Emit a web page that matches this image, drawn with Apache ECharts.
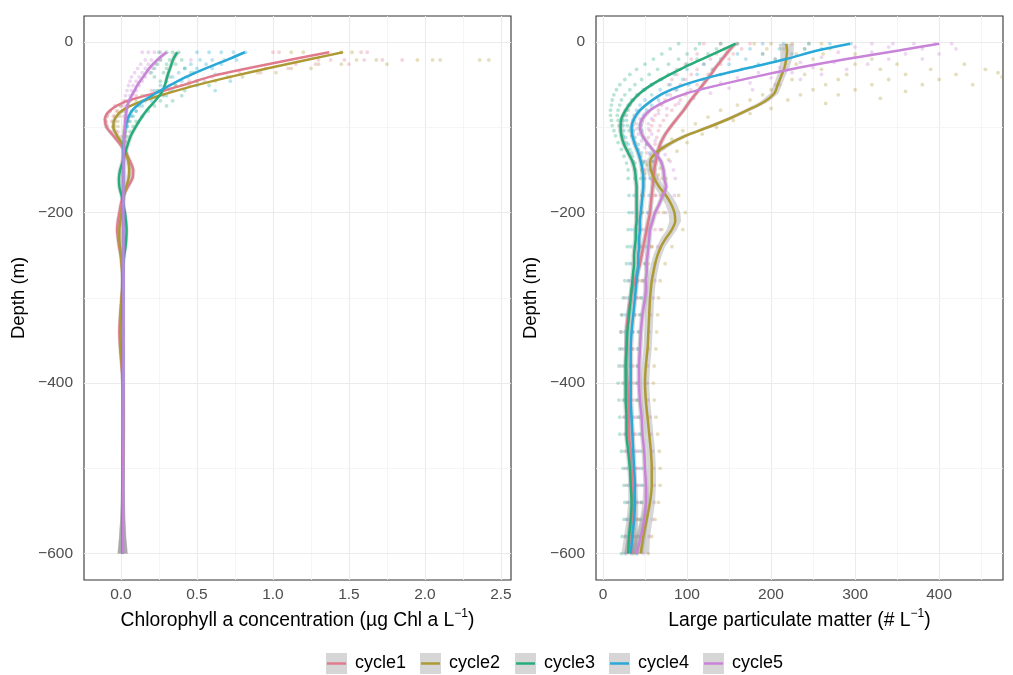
<!DOCTYPE html>
<html><head><meta charset="utf-8">
<script src="https://cdn.jsdelivr.net/npm/echarts@6/dist/echarts.min.js"></script>
<style>html,body{margin:0;padding:0;background:#fff}#c{width:1013px;height:675px}</style>
</head><body><div id="c"></div><script>
const cycles = ['cycle1','cycle2','cycle3','cycle4','cycle5'];
const chlTicks = [0, 0.5, 1, 1.5, 2, 2.5];
const chlMinor = [0.25, 0.75, 1.25, 1.75, 2.25];
const lpmTicks = [0, 100, 200, 300, 400];
const lpmMinor = [50, 150, 250, 350, 450];
const depthTicks = [0, -200, -400, -600];
const depthMinor = [-100, -300, -500];

const leftDepths = [-12,-20,-30,-40,-50,-60,-70,-80,-90,-100,-110,-120,-130,-140,-150,-160,-170,-180,-190,-200,-210,-220,-230,-240,-250,-260,-270,-280,-290,-300,-320,-340,-360,-380,-400,-420,-440,-460,-480,-500,-520,-540,-560,-580,-600];
const chl_cycle1 = [1.37,1.14,0.86,0.60,0.42,0.22,0.03,-0.07,-0.105,-0.095, -0.05,-0.005,0.03,0.06,0.08,0.075,0.045,0.015,0.0,-0.01, -0.02,-0.025,-0.02,-0.012,-0.002,0.005,0.01,0.012,0.01,0.005, -0.005,-0.01,-0.005,0.005,0.012,0.015,0.016,0.015,0.014,0.013,0.012,0.012,0.011,0.01,0.01];
const chl_cycle2 = [1.46,1.25,0.99,0.74,0.51,0.31,0.13,0.01,-0.04,-0.05, -0.025,0.01,0.035,0.048,0.055,0.05,0.035,0.02,0.01,0.004, -0.004,-0.01,-0.01,-0.007,0.0,0.004,0.008,0.01,0.008,0.004, 0.0,-0.004,0.0,0.006,0.012,0.014,0.015,0.015,0.014,0.013,0.012,0.012,0.011,0.01,0.01];
const chl_cycle3 = [0.37,0.345,0.325,0.305,0.29,0.265,0.22,0.17,0.13,0.095, 0.065,0.045,0.028,0.012,-0.005,-0.013,-0.01,0.004,0.015,0.026, 0.033,0.037,0.035,0.03,0.022,0.015,0.012,0.01,0.01,0.011, 0.012,0.013,0.013,0.013,0.013,0.013,0.012,0.012,0.012,0.012,0.012,0.012,0.011,0.01,0.01];
const chl_cycle4 = [0.815,0.71,0.57,0.44,0.33,0.23,0.14,0.075,0.045,0.03, 0.022,0.018,0.016,0.015,0.015,0.015,0.015,0.015,0.015,0.015, 0.015,0.015,0.015,0.015,0.015,0.015,0.015,0.015,0.015,0.015, 0.014,0.014,0.014,0.014,0.014,0.014,0.014,0.014,0.013,0.013,0.013,0.013,0.012,0.012,0.012];
const chl_cycle5 = [0.30,0.245,0.19,0.15,0.11,0.08,0.05,0.037,0.03,0.026, 0.022,0.02,0.018,0.017,0.016,0.016,0.016,0.016,0.016,0.016, 0.016,0.016,0.016,0.016,0.016,0.016,0.016,0.016,0.016,0.016, 0.016,0.016,0.016,0.016,0.016,0.016,0.016,0.016,0.015,0.015,0.015,0.015,0.015,0.014,0.014];
const chlSE = [0.02,0.018,0.015,0.013,0.012,0.012,0.012,0.013,0.015,0.016, 0.016,0.016,0.016,0.016,0.016,0.016,0.015,0.014,0.013,0.013, 0.013,0.013,0.013,0.013,0.012,0.012,0.012,0.012,0.012,0.012, 0.012,0.012,0.012,0.012,0.012,0.012,0.012,0.012,0.012,0.012,0.012,0.013,0.016,0.022,0.032];

const rightDepths = [-2,-10,-20,-30,-40,-50,-60,-70,-80,-90,-100,-110,-120,-130,-140,-150,-160,-170,-180,-190,-200,-210,-220,-230,-240,-250,-260,-270,-280,-290,-300,-320,-340,-360,-380,-400,-420,-440,-460,-480,-500,-520,-540,-560,-580,-600];
const lpm_cycle1 = [157,150,142,134,127,119,111,103,96,88, 80,73,68,65,63,61,60,59,58,57, 56,54,52,50,48,46,44,41,38,35, 33, 30,28,28,28,29,30,31,31,33,34,35,36,35,34,34];
const lpm_cycle2 = [218,219,218,216,212,208,204,192,172,150, 125,98,78,63,56,57,61,67,75,81, 85,86,82,75,69,65,62,60,58,57, 56, 55,54,53,51,50,51,53,55,57,58,58,56,52,48,45];
const lpm_cycle3 = [158,140,118,96,76,58,44,34,27,22, 21,22,25,30,35,38,39,40,40,40, 40,40,39,39,38,37,37,36,35,34, 33, 31,29,28,27,27,27,28,28,30,32,33,34,33,31,30];
const lpm_cycle4 = [294,255,218,175,132,97,72,56,44,37, 34,35,38,42,45,47,48,48,47,46, 45,44,44,43,43,42,42,41,40,39, 38, 36,34,33,33,33,33,34,35,36,37,38,38,37,35,33];
const lpm_cycle5 = [400,352,290,234,185,140,100,74,56,47, 44,47,54,62,69,72,73,75,71,67, 62,59,56,55,54,53,52,52,51,51, 50, 47,45,44,43,43,44,46,47,49,50,51,51,49,45,40];
const lpmSE = [4,3.5,3,3,3,3,3,3,3,3, 3,3,3,3,3,3,3,3,3,3, 3,3,3,3,3,3,3,3,3,3, 3, 3,3,3,3,3,3,3,3,3,3,3,4,5,6,8];
const lpmSE_cycle2 = [9,8,7,6,5,5,5,5,5,5, 5,5,5,5,5,5,6,6,7,7, 7,7,6,6,5,5,5,5,5,5, 5, 5,5,5,5,5,5,5,5,5,5,5,6,7,8,10];

const chlPts_cycle1 = [[1.0,-12],[1.04,-12],[1.58,-12],[1.62,-12],[1.3,-21],[1.38,-21],[1.47,-21],[1.6,-21],[1.72,-21],[1.85,-21],[1.15,-26],[1.28,-26],[1.5,-26],[0.95,-31],[1.1,-31],[0.78,-36],[0.92,-36],[0.6,-41],[0.72,-41],[0.45,-46],[0.55,-46],[0.32,-51],[0.4,-51],[0.2,-57],[0.28,-57],[0.1,-63],[0.16,-63],[0.02,-69],[0.06,-69],[-0.04,-75],[0.0,-75],[-0.07,-81],[-0.03,-81],[-0.09,-87],[-0.05,-87],[-0.1,-93],[-0.06,-93],[-0.09,-99],[-0.05,-99],[-0.06,-105],[-0.02,-105],[-0.03,-111],[0.0,-111]];
const chlPts_cycle2 = [[1.12,-12],[1.2,-12],[1.45,-12],[1.52,-12],[1.55,-21],[1.68,-21],[1.95,-21],[2.05,-21],[2.1,-21],[2.36,-21],[2.42,-21],[1.3,-26],[1.45,-26],[1.75,-26],[1.12,-31],[1.25,-31],[0.9,-36],[1.02,-36],[0.7,-41],[0.8,-41],[0.5,-46],[0.62,-46],[0.36,-51],[0.45,-51],[0.25,-57],[0.32,-57],[0.14,-63],[0.2,-63],[0.06,-69],[0.1,-69],[0.0,-75],[0.04,-75],[-0.02,-81],[0.01,-81],[-0.04,-87],[-0.01,-87],[-0.05,-93],[-0.02,-93],[-0.05,-99],[-0.02,-99]];
const chlPts_cycle3 = [[0.25,-12],[0.3,-12],[0.34,-12],[0.38,-12],[0.26,-21],[0.32,-21],[0.4,-21],[0.24,-26],[0.3,-26],[0.36,-26],[0.22,-31],[0.3,-31],[0.42,-31],[0.2,-36],[0.28,-36],[0.46,-36],[0.22,-41],[0.32,-41],[0.5,-46],[0.26,-46],[0.36,-51],[0.58,-51],[0.24,-57],[0.42,-57],[0.2,-63],[0.3,-63],[0.4,-63],[0.16,-69],[0.26,-69],[0.34,-69],[0.12,-75],[0.22,-75],[0.3,-75],[0.1,-81],[0.18,-81],[0.08,-87],[0.14,-87],[0.06,-93],[0.1,-93],[0.04,-99],[0.08,-99],[0.03,-105],[0.06,-105],[0.02,-111],[0.04,-111],[0.02,-117],[0.03,-117]];
const chlPts_cycle4 = [[0.5,-12],[0.58,-12],[0.66,-12],[0.74,-12],[0.82,-12],[0.52,-21],[0.6,-21],[0.68,-21],[0.76,-21],[0.46,-26],[0.56,-26],[0.66,-26],[0.42,-31],[0.5,-31],[0.6,-31],[0.38,-36],[0.48,-36],[0.62,-38],[0.34,-41],[0.44,-41],[0.3,-46],[0.4,-46],[0.72,-46],[0.26,-51],[0.5,-51],[0.22,-57],[0.34,-57],[0.62,-57],[0.18,-63],[0.28,-63],[0.14,-69],[0.2,-69],[0.1,-75],[0.14,-75],[0.07,-81],[0.1,-81],[0.05,-87],[0.07,-87],[0.04,-93],[0.05,-93],[0.03,-99],[0.04,-99]];
const chlPts_cycle5 = [[0.14,-12],[0.18,-12],[0.22,-12],[0.26,-12],[0.16,-21],[0.2,-21],[0.26,-21],[0.46,-21],[0.13,-26],[0.18,-26],[0.23,-26],[0.11,-31],[0.16,-31],[0.21,-31],[0.09,-36],[0.14,-36],[0.19,-36],[0.07,-41],[0.12,-41],[0.16,-41],[0.06,-46],[0.1,-46],[0.14,-46],[0.05,-51],[0.08,-51],[0.12,-51],[0.04,-57],[0.07,-57],[0.1,-57],[0.03,-63],[0.06,-63],[0.03,-69],[0.05,-69],[0.02,-75],[0.04,-75],[0.02,-81],[0.03,-81],[0.02,-87],[0.03,-93]];

const lpmPts_cycle1 = [[140,-2],[160,-2],[175,-2],[120,-2],[145,-8],[165,-8],[135,-14],[155,-14],[112,-14],[128,-20],[150,-20],[105,-20],[120,-26],[140,-26],[98,-26],[112,-32],[132,-32],[92,-32],[105,-38],[125,-38],[88,-38],[98,-44],[118,-44],[82,-44],[92,-50],[112,-50],[78,-50],[86,-56],[104,-56],[80,-62],[98,-62],[74,-68],[92,-68],[70,-74],[86,-74],[66,-80],[82,-80],[62,-86],[76,-86],[60,-92],[72,-92],[58,-98],[68,-98],[56,-104],[66,-104],[54,-112],[64,-112],[52,-120],[62,-120],[52,-130],[62,-130],[50,-140],[60,-140],[50,-150],[60,-150],[50,-160],[70,-160],[48,-180],[68,-180],[46,-200],[66,-200],[42,-220],[62,-220],[38,-240],[58,-240],[34,-260],[54,-260],[30,-280],[47,-280],[26,-300],[42,-300],[23,-320],[39,-320],[22,-340],[36,-340],[22,-360],[36,-360],[22,-380],[36,-380],[23,-400],[37,-400],[24,-420],[38,-420],[25,-440],[39,-440],[25,-460],[39,-460],[26,-480],[41,-480],[27,-500],[42,-500],[28,-520],[43,-520],[29,-540],[44,-540],[28,-560],[43,-560],[27,-580],[42,-580],[28,-600],[41,-600]];
const lpmPts_cycle2 = [[180,-2],[200,-2],[225,-2],[245,-2],[260,-2],[195,-8],[215,-8],[240,-8],[270,-8],[190,-14],[230,-14],[262,-14],[300,-14],[205,-20],[250,-20],[320,-20],[230,-26],[300,-26],[350,-26],[430,-26],[260,-32],[330,-32],[390,-32],[455,-32],[240,-38],[290,-38],[360,-38],[420,-38],[470,-36],[475,-41],[225,-44],[280,-44],[340,-44],[400,-44],[210,-50],[265,-50],[320,-50],[380,-50],[440,-50],[200,-56],[250,-56],[300,-56],[360,-58],[190,-62],[235,-62],[280,-62],[330,-66],[175,-68],[220,-68],[265,-72],[160,-74],[200,-78],[140,-80],[175,-84],[125,-88],[155,-92],[110,-96],[135,-100],[95,-104],[118,-108],[82,-114],[100,-118],[72,-124],[88,-128],[62,-134],[78,-138],[52,-144],[68,-148],[50,-154],[66,-156],[48,-160],[75,-160],[62,-180],[90,-180],[72,-200],[98,-200],[70,-220],[95,-220],[58,-240],[82,-240],[50,-260],[74,-260],[46,-280],[68,-280],[45,-300],[66,-300],[44,-320],[65,-320],[43,-340],[64,-340],[42,-360],[63,-360],[41,-380],[61,-380],[40,-400],[60,-400],[41,-420],[61,-420],[43,-440],[63,-440],[45,-460],[65,-460],[47,-480],[67,-480],[48,-500],[68,-500],[48,-520],[68,-520],[46,-540],[66,-540],[42,-560],[62,-560],[39,-580],[58,-580],[37,-600],[54,-600]];
const lpmPts_cycle3 = [[90,-2],[115,-2],[140,-2],[160,-2],[80,-8],[110,-8],[135,-8],[70,-14],[100,-14],[125,-14],[60,-20],[90,-20],[112,-20],[50,-26],[78,-26],[100,-26],[40,-32],[65,-32],[88,-32],[32,-38],[55,-38],[78,-38],[26,-44],[46,-44],[68,-44],[20,-50],[38,-50],[58,-50],[16,-56],[32,-56],[50,-56],[13,-62],[26,-62],[42,-62],[11,-68],[22,-68],[36,-68],[10,-74],[20,-74],[32,-74],[9,-80],[18,-80],[30,-80],[9,-86],[17,-86],[28,-86],[10,-92],[18,-92],[28,-92],[11,-98],[19,-98],[29,-98],[13,-104],[21,-104],[31,-104],[15,-110],[24,-110],[34,-110],[18,-118],[28,-118],[38,-118],[22,-126],[32,-126],[42,-126],[25,-134],[35,-134],[45,-134],[28,-142],[38,-142],[48,-142],[30,-150],[46,-150],[30,-160],[45,-160],[31,-180],[46,-180],[31,-200],[47,-200],[30,-220],[45,-220],[29,-240],[44,-240],[28,-260],[43,-260],[26,-280],[41,-280],[24,-300],[39,-300],[22,-320],[37,-320],[21,-340],[35,-340],[20,-360],[34,-360],[19,-380],[33,-380],[18,-400],[33,-400],[19,-420],[33,-420],[20,-440],[34,-440],[20,-460],[35,-460],[22,-480],[36,-480],[24,-500],[38,-500],[25,-520],[39,-520],[26,-540],[40,-540],[25,-560],[39,-560],[23,-580],[37,-580],[22,-600],[35,-600]];
const lpmPts_cycle4 = [[190,-2],[215,-2],[245,-2],[270,-2],[295,-2],[175,-8],[210,-8],[240,-8],[260,-8],[160,-14],[190,-14],[225,-14],[140,-20],[170,-20],[205,-20],[120,-26],[150,-26],[185,-26],[100,-32],[130,-32],[165,-32],[85,-38],[112,-38],[140,-38],[70,-44],[95,-44],[120,-44],[58,-50],[80,-50],[102,-50],[48,-56],[68,-56],[88,-56],[40,-62],[58,-62],[76,-62],[34,-68],[50,-68],[66,-68],[30,-74],[44,-74],[58,-74],[27,-80],[40,-80],[52,-80],[25,-86],[37,-86],[48,-86],[24,-92],[36,-92],[46,-92],[24,-98],[35,-98],[45,-98],[25,-104],[36,-104],[46,-104],[27,-112],[38,-112],[48,-112],[30,-120],[42,-120],[52,-120],[34,-130],[46,-130],[56,-130],[36,-140],[48,-140],[58,-140],[38,-150],[56,-150],[38,-160],[56,-160],[37,-180],[55,-180],[35,-200],[53,-200],[34,-220],[52,-220],[33,-240],[51,-240],[32,-260],[50,-260],[31,-280],[49,-280],[29,-300],[46,-300],[27,-320],[44,-320],[26,-340],[42,-340],[25,-360],[41,-360],[25,-380],[41,-380],[25,-400],[41,-400],[25,-420],[41,-420],[26,-440],[42,-440],[27,-460],[43,-460],[28,-480],[44,-480],[29,-500],[45,-500],[30,-520],[46,-520],[30,-540],[46,-540],[29,-560],[45,-560],[27,-580],[43,-580],[26,-600],[40,-600]];
const lpmPts_cycle5 = [[320,-2],[345,-2],[370,-2],[395,-2],[415,-2],[300,-6],[340,-6],[380,-8],[420,-8],[280,-12],[320,-12],[360,-14],[400,-14],[260,-18],[300,-18],[340,-20],[380,-20],[235,-24],[275,-24],[315,-26],[210,-30],[250,-30],[290,-32],[185,-36],[225,-36],[260,-38],[160,-42],[200,-42],[235,-44],[140,-48],[175,-48],[205,-50],[118,-54],[150,-54],[178,-56],[100,-60],[128,-60],[82,-66],[108,-66],[68,-72],[90,-72],[58,-78],[76,-78],[50,-84],[66,-84],[44,-90],[58,-90],[40,-96],[54,-96],[40,-102],[54,-102],[42,-108],[58,-108],[46,-116],[62,-116],[50,-124],[68,-124],[56,-132],[74,-132],[60,-140],[80,-140],[62,-150],[84,-150],[64,-160],[86,-160],[63,-180],[85,-180],[54,-200],[75,-200],[48,-220],[68,-220],[45,-240],[65,-240],[42,-260],[62,-260],[42,-280],[62,-280],[40,-300],[60,-300],[37,-320],[57,-320],[35,-340],[55,-340],[34,-360],[54,-360],[33,-380],[53,-380],[33,-400],[53,-400],[34,-420],[54,-420],[36,-440],[56,-440],[37,-460],[57,-460],[39,-480],[59,-480],[40,-500],[60,-500],[41,-520],[61,-520],[41,-540],[61,-540],[39,-560],[59,-560],[36,-580],[55,-580],[33,-600],[48,-600]];

const colors = ['#E07B8E','#AD9A34','#27AD7B','#28A9D8','#C983D8'];
const FONT = '"Liberation Sans", Arial, sans-serif';

const chlLines = [chl_cycle1, chl_cycle2, chl_cycle3, chl_cycle4, chl_cycle5];
const lpmLines = [lpm_cycle1, lpm_cycle2, lpm_cycle3, lpm_cycle4, lpm_cycle5];
const chlPts = [chlPts_cycle1, chlPts_cycle2, chlPts_cycle3, chlPts_cycle4, chlPts_cycle5];
const lpmPts = [lpmPts_cycle1, lpmPts_cycle2, lpmPts_cycle3, lpmPts_cycle4, lpmPts_cycle5];
const lpmSEs = [lpmSE, lpmSE_cycle2, lpmSE, lpmSE, lpmSE];

function zip(depths, vals) { return vals.map((v, i) => [v, depths[i]]); }

function gridLines(idx, xMaj, xMin) {
  const maj = {color: '#EBEBEB', width: 1.1, type: 'solid'};
  const mn = {color: '#F2F2F2', width: 0.8, type: 'solid'};
  const d = [];
  xMaj.forEach(v => d.push({xAxis: v, lineStyle: maj}));
  xMin.forEach(v => d.push({xAxis: v, lineStyle: mn}));
  depthTicks.forEach(v => d.push({yAxis: v, lineStyle: maj}));
  depthMinor.forEach(v => d.push({yAxis: v, lineStyle: mn}));
  return {type: 'line', xAxisIndex: idx, yAxisIndex: idx, data: [[xMaj[0], depthTicks[0]]],
    symbol: 'none', lineStyle: {width: 0}, silent: true, z: 1, animation: false,
    markLine: {silent: true, symbol: ['none', 'none'], label: {show: false}, animation: false, z: 1, data: d}};
}

function ribbon(idx, depths, vals, se, alpha) {
  return {type: 'custom', xAxisIndex: idx, yAxisIndex: idx, silent: true, z: 3, animation: false,
    data: [[vals[0], depths[0]]],
    renderItem: function (params, api) {
      const pts = [];
      for (let i = 0; i < vals.length; i++) pts.push(api.coord([vals[i] - se[i], depths[i]]));
      for (let i = vals.length - 1; i >= 0; i--) pts.push(api.coord([vals[i] + se[i], depths[i]]));
      return {type: 'polygon', shape: {points: pts}, style: {fill: 'rgba(153,153,153,' + alpha + ')'}};
    }};
}

const series = [gridLines(0, chlTicks, chlMinor), gridLines(1, lpmTicks, lpmMinor)];
for (let c = 0; c < 5; c++) {
  series.push({type: 'scatter', name: cycles[c], xAxisIndex: 0, yAxisIndex: 0, data: chlPts[c], symbolSize: 3.8,
    itemStyle: {color: colors[c], opacity: 0.32}, z: 2, silent: true, animation: false});
  series.push({type: 'scatter', name: cycles[c], xAxisIndex: 1, yAxisIndex: 1, data: lpmPts[c], symbolSize: 3.8,
    itemStyle: {color: colors[c], opacity: 0.32}, z: 2, silent: true, animation: false});
}
for (let c = 0; c < 5; c++) {
  series.push(ribbon(0, leftDepths, chlLines[c], chlSE, 0.3));
  series.push(ribbon(1, rightDepths, lpmLines[c], lpmSEs[c], 0.4));
}
for (let c = 0; c < 5; c++) {
  series.push({type: 'line', name: cycles[c], xAxisIndex: 0, yAxisIndex: 0, data: zip(leftDepths, chlLines[c]),
    smooth: 0.3, symbol: 'none', lineStyle: {color: colors[c], width: 2.5}, z: 4 + c, silent: true, animation: false});
  series.push({type: 'line', name: cycles[c], xAxisIndex: 1, yAxisIndex: 1, data: zip(rightDepths, lpmLines[c]),
    smooth: 0.3, symbol: 'none', lineStyle: {color: colors[c], width: 2.5}, z: 4 + c, silent: true, animation: false});
}

const minus = v => String(v).replace('-', '\u2212');
function yAxis(idx) {
  return {gridIndex: idx, type: 'value', min: -631, max: 30.5, name: 'Depth (m)', nameLocation: 'middle', nameGap: 56,
    nameTextStyle: {fontSize: 18.5, color: '#000', fontFamily: FONT},
    axisLine: {show: false}, splitLine: {show: false},
    axisTick: {show: true, length: 4, lineStyle: {color: '#333'}, customValues: depthTicks},
    axisLabel: {customValues: depthTicks, fontSize: 15.5, color: '#4D4D4D', margin: 11, fontFamily: FONT, formatter: minus}};
}
const supRich = {sup: {fontSize: 12, verticalAlign: 'top', lineHeight: 12, fontFamily: FONT, color: '#000'}};

const option = {
  backgroundColor: '#fff',
  animation: false,
  textStyle: {fontFamily: FONT},
  grid: [
    {left: 84, right: 502, top: 16, bottom: 95, show: true, borderColor: '#333', borderWidth: 1.1, backgroundColor: '#fff'},
    {left: 596, right: 10, top: 16, bottom: 95, show: true, borderColor: '#333', borderWidth: 1.1, backgroundColor: '#fff'}
  ],
  xAxis: [
    {gridIndex: 0, type: 'value', min: -0.243, max: 2.566,
      name: 'Chlorophyll a concentration (\u00b5g Chl a L{sup|\u22121})', nameLocation: 'middle', nameGap: 28,
      nameTextStyle: {fontSize: 19.3, color: '#000', lineHeight: 26, fontFamily: FONT, rich: supRich},
      axisLine: {show: false}, splitLine: {show: false},
      axisTick: {show: true, length: 4, lineStyle: {color: '#333'}, customValues: chlTicks},
      axisLabel: {customValues: chlTicks, fontSize: 15.5, color: '#4D4D4D', margin: 7, fontFamily: FONT, formatter: v => v.toFixed(1)}},
    {gridIndex: 1, type: 'value', min: -8.3, max: 476,
      name: 'Large particulate matter (# L{sup|\u22121})', nameLocation: 'middle', nameGap: 28,
      nameTextStyle: {fontSize: 19.3, color: '#000', lineHeight: 26, fontFamily: FONT, rich: supRich},
      axisLine: {show: false}, splitLine: {show: false},
      axisTick: {show: true, length: 4, lineStyle: {color: '#333'}, customValues: lpmTicks},
      axisLabel: {customValues: lpmTicks, fontSize: 15.5, color: '#4D4D4D', margin: 7, fontFamily: FONT, formatter: v => String(v)}}
  ],
  yAxis: [yAxis(0), yAxis(1)],
  series: series,
  graphic: cycles.map((c, i) => ({
    type: 'group', x: [326, 420, 515, 609, 703][i], y: 653,
    children: [
      {type: 'rect', shape: {x: 0, y: 0, width: 21, height: 21}, style: {fill: '#D6D6D6'}},
      {type: 'line', shape: {x1: 1, y1: 10.5, x2: 20, y2: 10.5}, style: {stroke: colors[i], lineWidth: 2.5}},
      {type: 'text', x: 29, y: 10.5, style: {text: c, fontSize: 18, fill: '#000', fontFamily: FONT, verticalAlign: 'middle', align: 'left'}}
    ]
  }))
};
const chart = echarts.init(document.getElementById('c'), null, {renderer: 'canvas'});
chart.setOption(option);
</script></body></html>
